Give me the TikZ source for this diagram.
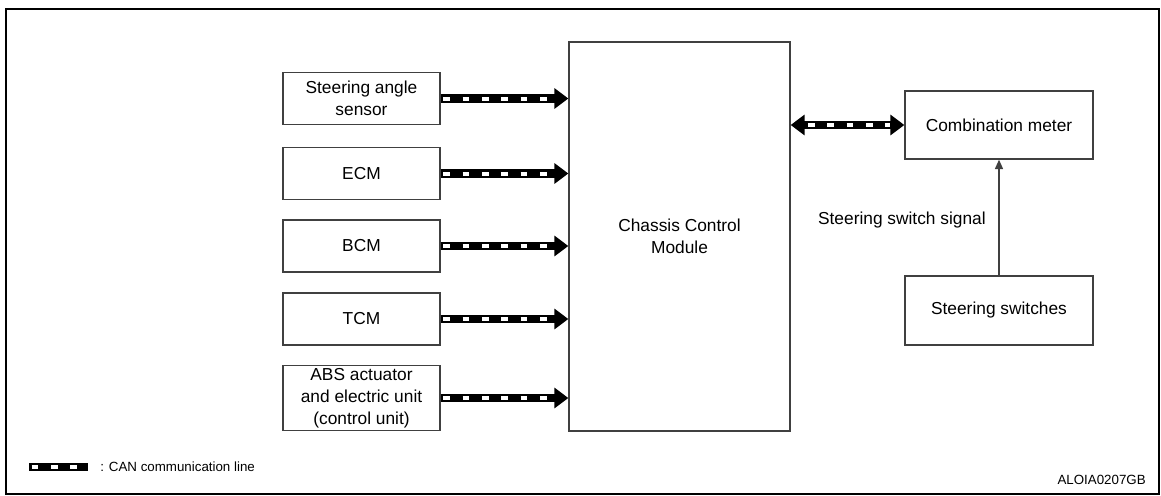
\documentclass[tikz,border=0pt]{standalone}
\usepackage{fontspec}
\setmainfont{Liberation Sans}
\usetikzlibrary{arrows.meta}

\tikzset{
  unit/.style={draw=black!75, line width=1pt, align=center, inner sep=2pt,
    font=\fontsize{13}{16.5}\selectfont},
  canwhite/.style={draw=white, -, line width=3pt, dash pattern=on 5pt off 9.5pt, dash phase=-2pt},
  canline/.style={line width=6.3pt, postaction={canwhite}},
  canto/.style={line width=6.3pt, -{Triangle[length=10.5pt,width=15pt]},
    postaction={canwhite, shorten >=11pt}},
  canboth/.style={line width=6.3pt, {Triangle[length=10.5pt,width=15pt]}-{Triangle[length=10.5pt,width=15pt]},
    postaction={canwhite, shorten >=11pt, shorten <=11pt}},
  sigline/.style={draw=black!75, line width=1pt, -{Triangle[length=7pt,width=6pt]}}
}

\begin{document}
\begin{tikzpicture}[x=0.75pt,y=-0.75pt]
\useasboundingbox (0,0) rectangle (1161,496);
\draw[line width=1.9pt] (6,9) rectangle (1159,494);

% units on the left
\node[unit, minimum width=117.75pt, minimum height=39pt] (sas) at (361.5,98.5) {Steering angle\\sensor};
\node[unit, minimum width=117.75pt, minimum height=39pt] (ecm) at (361.5,173.5) {ECM};
\node[unit, minimum width=117.75pt, minimum height=39pt] (bcm) at (361.5,246) {BCM};
\node[unit, minimum width=117.75pt, minimum height=39pt] (tcm) at (361.5,319) {TCM};
\node[unit, minimum width=117.75pt, minimum height=48pt] (abs) at (361.5,398) {ABS actuator\\and electric unit\\(control unit)};

% control module
\node[unit, minimum width=165.75pt, minimum height=291.75pt] (ccm) at (679.5,236.5) {Chassis Control\\Module};

% right side
\node[unit, minimum width=141pt, minimum height=51pt] (meter) at (999,125) {Combination meter};
\node[unit, minimum width=141pt, minimum height=51.75pt] (switches) at (999,310.5) {Steering switches};

\foreach \u in {sas,ecm,bcm,tcm,abs}
  \draw[canto] (\u.east) -- (\u.east -| ccm.west);

\draw[canboth] (meter.west -| ccm.east) -- (meter.west);
\draw[sigline] (switches.north) -- (meter.south);
\node[anchor=east, inner sep=0pt, font=\fontsize{13}{16}\selectfont] (sig) at (986,220) {Steering switch signal};

% legend
\coordinate (keyA) at (29,467);
\coordinate (keyB) at (88,467);
\draw[canline] (keyA) -- (keyB);
\node[anchor=west, inner sep=0pt, font=\fontsize{10}{12}\selectfont] (legend) at (100,467) {: CAN communication line};

\node[anchor=east, inner sep=0pt, font=\fontsize{10}{12}\selectfont] (code) at (1146,480) {ALOIA0207GB};
\end{tikzpicture}
\end{document}
